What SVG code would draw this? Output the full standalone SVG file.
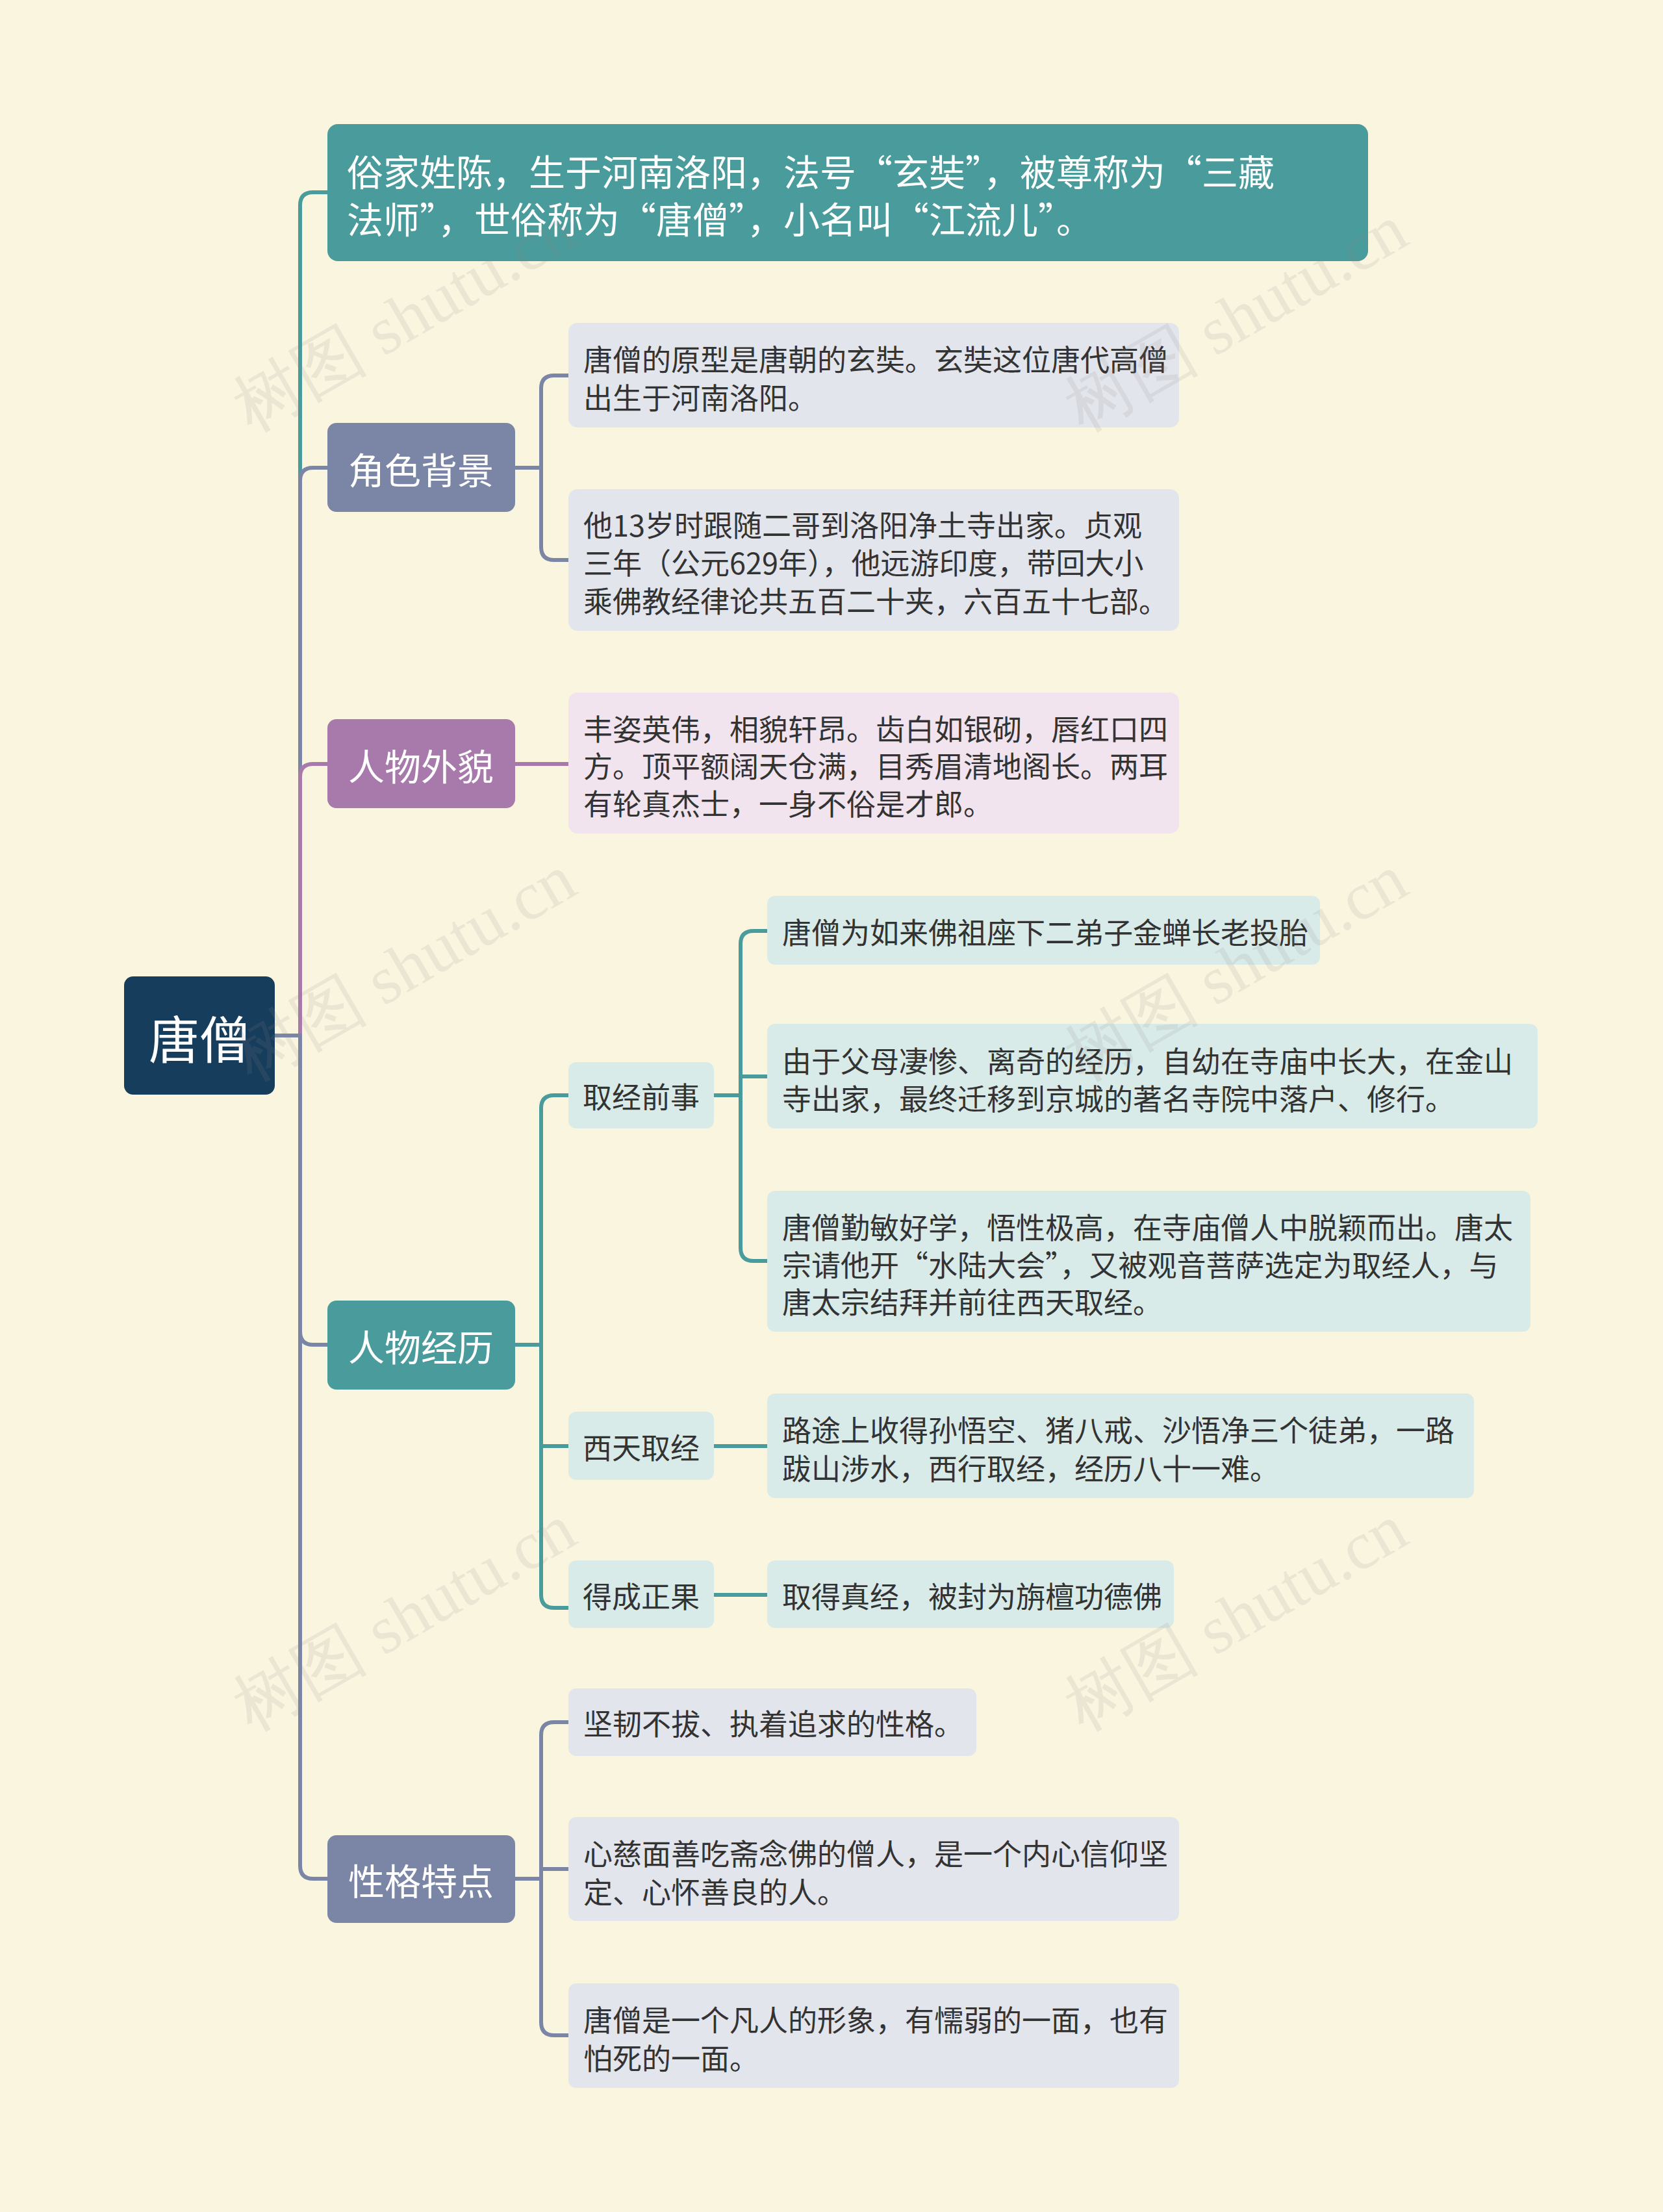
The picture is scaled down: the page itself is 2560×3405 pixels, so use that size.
<svg xmlns="http://www.w3.org/2000/svg" width="2560" height="3405" viewBox="0 0 2560 3405">
<style>
text{font-family:"Noto Sans CJK SC","Noto Sans",sans-serif;}
.w{fill:#fff;}
.d{fill:#333;font-size:45px;}
.m{font-size:56px;}
.c{fill:none;stroke-width:6;stroke-linecap:round;}
.t{stroke:#4a9b9b;} .s{stroke:#7b86a6;} .p{stroke:#a87aab;}
.wm{fill:#888;opacity:0.13;font-family:"Liberation Serif",serif;font-size:104px;}
</style>
<rect width="2560" height="3405" fill="#faf5df"/>
<g id="connectors">
<path class="c t" d="M423,1594H462V316Q462,296 482,296H504"/>
<path class="c s" d="M423,1594H462V740Q462,720 482,720H504"/>
<path class="c p" d="M423,1594H462V1196Q462,1176 482,1176H504"/>
<path class="c s" d="M423,1594H462V2050Q462,2070 482,2070H504"/>
<path class="c s" d="M423,1594H462V2872Q462,2892 482,2892H504"/>
<path class="c s" d="M793,720H833M875,578H853Q833,578 833,598V842Q833,862 853,862H875"/>
<path class="c p" d="M793,1176H875"/>
<path class="c t" d="M793,2070H833M875,1686H853Q833,1686 833,1706V2455Q833,2475 853,2475H875M833,2226H875"/>
<path class="c t" d="M1099,1686H1140M1181,1433H1160Q1140,1433 1140,1453V1921Q1140,1941 1160,1941H1181M1140,1657H1181"/>
<path class="c t" d="M1099,2226H1181M1099,2455H1181"/>
<path class="c s" d="M793,2892H833M875,2651H853Q833,2651 833,2671V3113Q833,3133 853,3133H875M833,2877H875"/>
</g>
<g id="root"><rect x="191" y="1503" width="232" height="182" rx="14" fill="#173d5c"/><text class="w" x="307" y="1596" font-size="78" text-anchor="middle" dominant-baseline="central">唐僧</text></g>
<g id="top"><rect x="504" y="191" width="1602" height="211" rx="16" fill="#4a9b9b"/><text class="w m" x="534" y="261" dominant-baseline="central">俗家姓陈，生于河南洛阳，法号“玄奘”，被尊称为“三藏</text><text class="w m" x="534" y="334" dominant-baseline="central">法师”，世俗称为“唐僧”，小名叫“江流儿”。</text></g>
<g id="n1"><rect x="504" y="651" width="289" height="137" rx="14" fill="#7b86a6"/><text class="w m" x="648" y="720" text-anchor="middle" dominant-baseline="central">角色背景</text></g>
<g id="n1a"><rect x="875" y="497" width="940" height="161" rx="14" fill="#e3e5ec"/><text class="d" x="898" y="551" dominant-baseline="central">唐僧的原型是唐朝的玄奘。玄奘这位唐代高僧</text><text class="d" x="898" y="610" dominant-baseline="central">出生于河南洛阳。</text></g>
<g id="n1b"><rect x="875" y="753" width="940" height="218" rx="14" fill="#e3e5ec"/><text class="d" x="898" y="806" dominant-baseline="central">他13岁时跟随二哥到洛阳净土寺出家。贞观</text><text class="d" x="898" y="864" dominant-baseline="central">三年（公元629年），他远游印度，带回大小</text><text class="d" x="898" y="923" dominant-baseline="central">乘佛教经律论共五百二十夹，六百五十七部。</text></g>
<g id="n2"><rect x="504" y="1107" width="289" height="137" rx="14" fill="#a87aab"/><text class="w m" x="648" y="1176" text-anchor="middle" dominant-baseline="central">人物外貌</text></g>
<g id="n2a"><rect x="875" y="1066" width="940" height="217" rx="14" fill="#f1e4ee"/><text class="d" x="898" y="1120" dominant-baseline="central">丰姿英伟，相貌轩昂。齿白如银砌，唇红口四</text><text class="d" x="898" y="1177" dominant-baseline="central">方。顶平额阔天仓满，目秀眉清地阁长。两耳</text><text class="d" x="898" y="1235" dominant-baseline="central">有轮真杰士，一身不俗是才郎。</text></g>
<g id="n3"><rect x="504" y="2002" width="289" height="137" rx="14" fill="#4a9b9b"/><text class="w m" x="648" y="2070" text-anchor="middle" dominant-baseline="central">人物经历</text></g>
<g id="n3a"><rect x="875" y="1635" width="224" height="102" rx="12" fill="#d9ebe8"/><text class="d" x="987" y="1686" text-anchor="middle" dominant-baseline="central">取经前事</text></g>
<g id="n3a1"><rect x="1181" y="1379" width="851" height="106" rx="12" fill="#d9ebe8"/><text class="d" x="1204" y="1433" dominant-baseline="central">唐僧为如来佛祖座下二弟子金蝉长老投胎</text></g>
<g id="n3a2"><rect x="1181" y="1576" width="1186" height="161" rx="12" fill="#d9ebe8"/><text class="d" x="1204" y="1631" dominant-baseline="central">由于父母凄惨、离奇的经历，自幼在寺庙中长大，在金山</text><text class="d" x="1204" y="1689" dominant-baseline="central">寺出家，最终迁移到京城的著名寺院中落户、修行。</text></g>
<g id="n3a3"><rect x="1181" y="1833" width="1175" height="217" rx="12" fill="#d9ebe8"/><text class="d" x="1204" y="1887" dominant-baseline="central">唐僧勤敏好学，悟性极高，在寺庙僧人中脱颖而出。唐太</text><text class="d" x="1204" y="1945" dominant-baseline="central">宗请他开“水陆大会”，又被观音菩萨选定为取经人，与</text><text class="d" x="1204" y="2002" dominant-baseline="central">唐太宗结拜并前往西天取经。</text></g>
<g id="n3b"><rect x="875" y="2173" width="224" height="105" rx="12" fill="#d9ebe8"/><text class="d" x="987" y="2226" text-anchor="middle" dominant-baseline="central">西天取经</text></g>
<g id="n3b1"><rect x="1181" y="2145" width="1088" height="161" rx="12" fill="#d9ebe8"/><text class="d" x="1204" y="2199" dominant-baseline="central">路途上收得孙悟空、猪八戒、沙悟净三个徒弟，一路</text><text class="d" x="1204" y="2258" dominant-baseline="central">跋山涉水，西行取经，经历八十一难。</text></g>
<g id="n3c"><rect x="875" y="2402" width="224" height="104" rx="12" fill="#d9ebe8"/><text class="d" x="987" y="2455" text-anchor="middle" dominant-baseline="central">得成正果</text></g>
<g id="n3c1"><rect x="1181" y="2402" width="626" height="104" rx="12" fill="#d9ebe8"/><text class="d" x="1204" y="2455" dominant-baseline="central">取得真经，被封为旃檀功德佛</text></g>
<g id="n4"><rect x="504" y="2825" width="289" height="135" rx="14" fill="#7b86a6"/><text class="w m" x="648" y="2892" text-anchor="middle" dominant-baseline="central">性格特点</text></g>
<g id="n4a"><rect x="875" y="2599" width="628" height="104" rx="12" fill="#e3e5ec"/><text class="d" x="898" y="2651" dominant-baseline="central">坚韧不拔、执着追求的性格。</text></g>
<g id="n4b"><rect x="875" y="2797" width="940" height="160" rx="12" fill="#e3e5ec"/><text class="d" x="898" y="2851" dominant-baseline="central">心慈面善吃斋念佛的僧人，是一个内心信仰坚</text><text class="d" x="898" y="2910" dominant-baseline="central">定、心怀善良的人。</text></g>
<g id="n4c"><rect x="875" y="3053" width="940" height="161" rx="12" fill="#e3e5ec"/><text class="d" x="898" y="3107" dominant-baseline="central">唐僧是一个凡人的形象，有懦弱的一面，也有</text><text class="d" x="898" y="3166" dominant-baseline="central">怕死的一面。</text></g>
<g id="watermarks">
<text class="wm" transform="translate(640,520) rotate(-30)" text-anchor="middle">树图 shutu.cn</text>
<text class="wm" transform="translate(1920,520) rotate(-30)" text-anchor="middle">树图 shutu.cn</text>
<text class="wm" transform="translate(640,1520) rotate(-30)" text-anchor="middle">树图 shutu.cn</text>
<text class="wm" transform="translate(1920,1520) rotate(-30)" text-anchor="middle">树图 shutu.cn</text>
<text class="wm" transform="translate(640,2520) rotate(-30)" text-anchor="middle">树图 shutu.cn</text>
<text class="wm" transform="translate(1920,2520) rotate(-30)" text-anchor="middle">树图 shutu.cn</text>
</g>
</svg>
